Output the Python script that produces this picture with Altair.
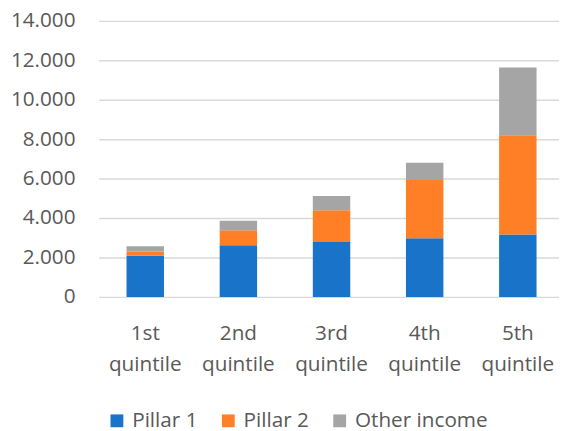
import altair as alt
import pandas as pd

categories = ["1st quintile", "2nd quintile", "3rd quintile", "4th quintile", "5th quintile"]
series = ["Pillar 1", "Pillar 2", "Other income"]
pillar1 = [2080, 2620, 2780, 2980, 3170]
pillar2 = [220, 760, 1620, 2950, 5030]
other_income = [270, 480, 720, 870, 3430]
colors = ["#1873C9", "#FF7F27", "#A5A5A5"]
y_ticks = [0, 2000, 4000, 6000, 8000, 10000, 12000, 14000]

rows = []
for i, c in enumerate(categories):
    for k, (s, vals) in enumerate(zip(series, [pillar1, pillar2, other_income])):
        rows.append({"category": c, "series": s, "value": vals[i], "order": k})
df = pd.DataFrame(rows)

FONT = "Open Sans"
LABEL_COLOR = "#595959"

chart = alt.Chart(df).mark_bar().encode(
    x=alt.X(
        "category:N",
        sort=categories,
        title=None,
        scale=alt.Scale(paddingInner=0.598, paddingOuter=0.27, align=0.5536),
        axis=alt.Axis(
            labelAngle=0,
            labelExpr="split(datum.label, ' ')",
            labelFont=FONT,
            labelFontSize=21,
            labelColor=LABEL_COLOR,
            labelPadding=26,
            labelLineHeight=32,
            domain=False,
            ticks=False,
            grid=False,
        ),
    ),
    y=alt.Y(
        "value:Q",
        stack="zero",
        title=None,
        scale=alt.Scale(domain=[0, 14000], nice=False),
        axis=alt.Axis(
            values=y_ticks,
            labelExpr="replace(format(datum.value, ','), ',', '.')",
            labelFont=FONT,
            labelFontSize=21,
            labelColor=LABEL_COLOR,
            labelPadding=24,
            domain=False,
            ticks=False,
            grid=True,
            gridColor="#D9D9D9",
            gridWidth=1.5,
        ),
    ),
    color=alt.Color(
        "series:N",
        scale=alt.Scale(domain=series, range=colors),
        sort=series,
        legend=alt.Legend(
            title=None,
            orient="none",
            direction="horizontal",
            legendX=8,
            legendY=395,
            symbolType="square",
            symbolSize=169,
            symbolStrokeWidth=0,
            symbolOpacity=1,
            labelFont=FONT,
            labelFontSize=21,
            labelColor=LABEL_COLOR,
            labelOffset=5,
            columnPadding=20,
        ),
    ),
    order=alt.Order("order:Q", sort="ascending"),
).properties(
    width=467,
    height=280,
    autosize=alt.AutoSizeParams(type="none"),
    padding={"left": 92, "top": 10, "right": 0, "bottom": 133},
).configure_view(stroke=None)

chart.save("out.html", embed_options={"renderer": "svg", "actions": False})
